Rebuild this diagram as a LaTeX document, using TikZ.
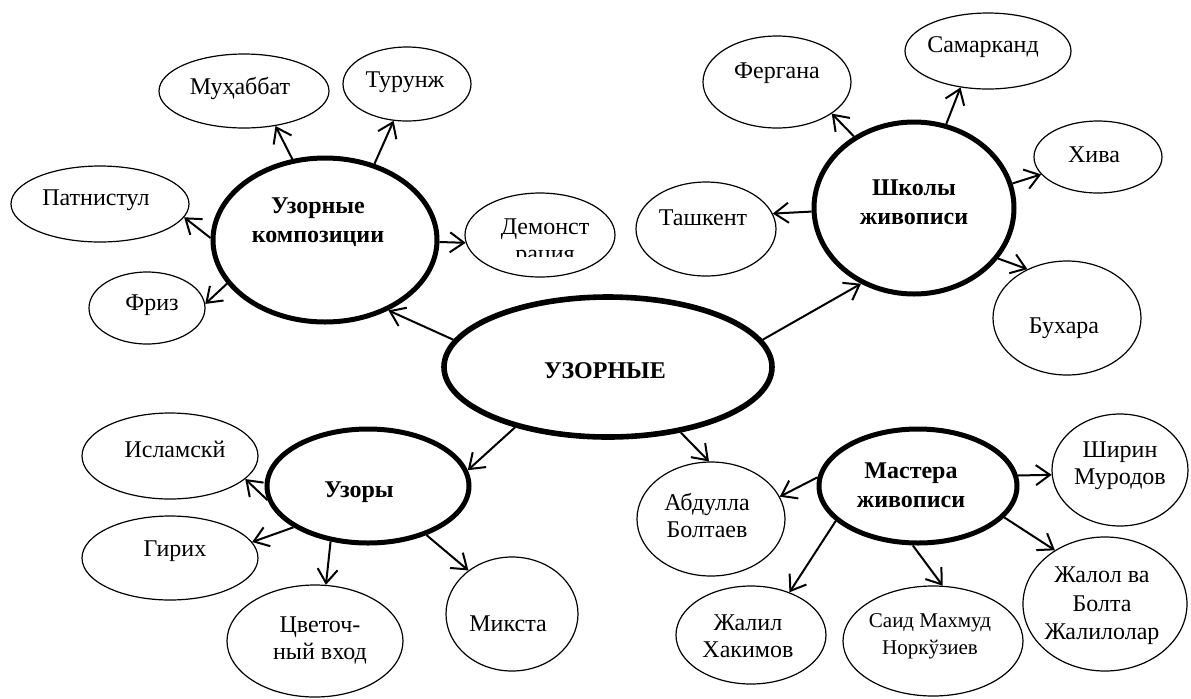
\documentclass[tikz,border=0pt]{standalone}
\usepackage{fontspec}
\setmainfont{Liberation Serif}
\usetikzlibrary{shapes.geometric, arrows.meta}

\begin{document}
\begin{tikzpicture}[x=0.5pt, y=-0.5pt, >={Straight Barb[length=7pt,width=10pt]},
  leaf/.style={draw, ellipse, line width=0.6pt, inner sep=0pt},
  hub/.style={draw, ellipse, line width=2.5pt, inner sep=0pt},
  txt/.style={align=center, inner sep=0pt, font=\fontsize{12}{13.5}\selectfont},
  hubtxt/.style={align=center, inner sep=0pt, font=\fontsize{12}{14.5}\selectfont\bfseries},
  link/.style={->, line width=1pt}]
\useasboundingbox (0,0) rectangle (1191,698);

\node[hub, minimum width=164pt, minimum height=70pt, line width=2.8pt] (uz) at (608,367) {};
\node[hubtxt] (uzT) at (605,371) {УЗОРНЫЕ};

\node[hub, minimum width=112pt, minimum height=82pt] (komp) at (325,240) {};
\node[hubtxt] (kompT) at (318,222) {Узорные\\композиции};
\node[hub, minimum width=100pt, minimum height=86pt] (shk) at (914,208) {};
\node[hubtxt] (shkT) at (914,202) {Школы\\живописи};
\node[hub, minimum width=101pt, minimum height=57pt] (uzory) at (368,486) {};
\node[hubtxt] (uzoryT) at (359,492) {Узоры};
\node[hub, minimum width=99pt, minimum height=57pt] (mast) at (918,486) {};
\node[hubtxt] (mastT) at (911,485) {Мастера\\живописи};

\node[leaf, minimum width=85pt, minimum height=37pt] (muh) at (244,91) {};
\node[txt] (muhT) at (240,88) {Муҳаббат};
\node[leaf, minimum width=64pt, minimum height=37pt] (tur) at (407,84) {};
\node[txt] (turT) at (405,82) {Турунж};
\node[leaf, minimum width=89pt, minimum height=38pt] (pat) at (100,204) {};
\node[txt] (patT) at (96,200) {Патнистул};
\node[leaf, minimum width=58pt, minimum height=36pt] (friz) at (147,308) {};
\node[txt] (frizT) at (152,305) {Фриз};
\node[leaf, minimum width=75pt, minimum height=42pt] (dem) at (540,235) {};
\begin{scope}
  \clip (460,190) rectangle (620,256);
  \node[txt] (demT) at (545,243) {Демонст\\рация};
\end{scope}

\node[leaf, minimum width=70pt, minimum height=47pt] (tash) at (706,229) {};
\node[txt] (tashT) at (703,218) {Ташкент};
\node[leaf, minimum width=74pt, minimum height=46pt] (ferg) at (777,82) {};
\node[txt] (fergT) at (777,73) {Фергана};
\node[leaf, minimum width=83pt, minimum height=38pt] (sam) at (988,51) {};
\node[txt] (samT) at (983,47) {Самарканд};
\node[leaf, minimum width=64pt, minimum height=36pt] (khiva) at (1098,157) {};
\node[txt] (khivaT) at (1094,155) {Хива};
\node[leaf, minimum width=74pt, minimum height=57pt] (bukh) at (1067,318) {};
\node[txt] (bukhT) at (1064,328) {Бухара};

\node[leaf, minimum width=88pt, minimum height=43pt] (isl) at (170,456) {};
\node[txt] (islT) at (175,449) {Исламскй};
\node[leaf, minimum width=88pt, minimum height=42pt] (gir) at (170,558) {};
\node[txt] (girT) at (175,551) {Гирих};
\node[leaf, minimum width=88pt, minimum height=56pt] (tsv) at (315,641) {};
\node[txt] (tsvT) at (320,640) {Цветоч-\\ный вход};
\node[leaf, minimum width=66pt, minimum height=57pt] (mix) at (512,614) {};
\node[txt] (mixT) at (508,624) {Микста};

\node[leaf, minimum width=74pt, minimum height=57pt] (abd) at (711,519) {};
\node[txt] (abdT) at (707,516) {Абдулла\\Болтаев};
\node[leaf, minimum width=75pt, minimum height=49pt] (zhal) at (751,635) {};
\node[txt] (zhalT) at (748,636) {Жалил\\Хакимов};
\node[leaf, minimum width=90pt, minimum height=55pt] (said) at (933,641) {};
\node[txt, font=\fontsize{10.5}{13.5}\selectfont] (saidT) at (930,636) {Саид Махмуд\\Норкўзиев};
\node[leaf, minimum width=68pt, minimum height=56pt] (shir) at (1120,470) {};
\node[txt] (shirT) at (1120,466) {Ширин\\Муродов};
\node[leaf, minimum width=82pt, minimum height=67pt] (zhol) at (1105,604) {};
\node[txt, font=\fontsize{12}{14.3}\selectfont] (zholT) at (1102,606) {Жалол ва\\Болта\\Жалилолар};

\draw[link] (uz.170) -- (komp.312);
\draw[link] (uz.10) -- (shk.235);
\draw[link] (uz.213) -- (uzory.9);
\draw[link] (uz.-42) -- (abd.92);

\draw[link] (komp.112) -- (muh.-48);
\draw[link] (komp.57) -- (tur.250);
\draw[link] (komp.179) -- (pat.-9);
\draw[link] (komp.204) -- (friz.4);
\draw[link] (komp.-1) -- (dem.186);

\draw[link] (shk.130) -- (ferg.-30);
\draw[link] (shk.69) -- (sam.233);
\draw[link] (shk.14) -- (khiva.197);
\draw[link] (shk.-31) -- (bukh.129);
\draw[link] (shk.182) -- (tash.13);

\draw[link] (uzory.188) -- (isl.-17);
\draw[link] (uzory.209) -- (gir.11);
\draw[link] (uzory.236) -- (tsv.79);
\draw[link] (uzory.-40) -- (mix.135);

\draw[link] (mast.175) -- (abd.18);
\draw[link] (mast.203) -- (zhal.48);
\draw[link] (mast.265) -- (said.80);
\draw[link] (mast.6) -- (shir.184);
\draw[link] (mast.-20) -- (zhol.133);
\end{tikzpicture}
\end{document}
